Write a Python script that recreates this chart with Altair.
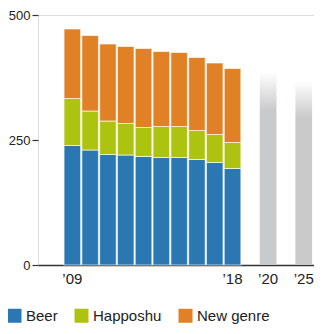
import altair as alt
import pandas as pd

years = ["2009", "2010", "2011", "2012", "2013", "2014", "2015", "2016", "2017", "2018"]
beer = [239, 230, 221, 220, 217, 215, 215, 211, 205, 193]
happoshu = [94, 78, 67, 63, 58, 62, 62, 58, 56, 52]
new_genre = [139, 151, 154, 154, 158, 150, 148, 146, 143, 148]

proj_years = ["2020", "2025"]
proj_totals = [386, 368]

x_slots = ["2009", "2010", "2011", "2012", "2013", "2014", "2015", "2016", "2017", "2018",
           "2019", "2020", "2021", "2025"]
shown_labels = ["2009", "2018", "2020", "2025"]

categories = ["Beer", "Happoshu", "New genre"]
colors = ["#2a77b2", "#aec30f", "#e08126"]

rows = []
for i, y in enumerate(years):
    for k, (cat, vals) in enumerate(zip(categories, [beer, happoshu, new_genre])):
        rows.append({"year": y, "type": cat, "value": vals[i], "order": k})
df = pd.DataFrame(rows)
proj = pd.DataFrame({"year": proj_years, "value": proj_totals})

FONT = "Liberation Sans"
NARROW = "Noto Sans Condensed, Liberation Sans Narrow, Liberation Sans, sans-serif"

xscale = alt.Scale(domain=x_slots, paddingInner=0.06, paddingOuter=0.783, align=0.932)
label_expr = ("indexof(" + str(shown_labels) + ", datum.value) >= 0 ? "
              "'\u2019' + slice(datum.value, 2) : ''")

x_enc = alt.X("year:N", scale=xscale, title=None,
              axis=alt.Axis(labelExpr=label_expr, ticks=False, labelAngle=0,
                            labelFontSize=15, labelFont=FONT, labelColor="#222",
                            labelPadding=6, domainColor="#333", domainWidth=1.5,
                            labelFlush=False))

bars = alt.Chart(df).mark_bar(stroke="white", strokeWidth=1.2, strokeOpacity=0.65).encode(
    x=x_enc,
    y=alt.Y("value:Q", stack="zero", scale=alt.Scale(domain=[0, 500]), title=None,
            axis=alt.Axis(values=[0, 250, 500], grid=False, domain=False, tickSize=6,
                          tickColor="#333", tickWidth=1.2, labelFontSize=13,
                          labelFont=NARROW, labelColor="#222", labelPadding=2)),
    color=alt.Color("type:N", scale=alt.Scale(domain=categories, range=colors), title=None,
                    legend=alt.Legend(orient="none", legendX=-31, legendY=293,
                                      direction="horizontal", symbolType="square",
                                      symbolSize=196, symbolStrokeWidth=0, symbolOpacity=1,
                                      labelFontSize=15, labelFont=FONT, labelColor="#222",
                                      columnPadding=16, labelOffset=4)),
    order=alt.Order("order:Q", sort="ascending"),
)

gradient = alt.Gradient(
    gradient="linear",
    stops=[alt.GradientStop(color="#ffffff", offset=0),
           alt.GradientStop(color="#c9cacb", offset=0.2),
           alt.GradientStop(color="#c9cacb", offset=1)],
    x1=1, x2=1, y1=0, y2=1,
)

proj_bars = alt.Chart(proj).mark_bar(color=gradient).encode(
    x=alt.X("year:N", scale=xscale, title=None),
    y=alt.Y("value:Q"),
)

chart = alt.layer(bars, proj_bars).properties(
    width=276, height=250,
    autosize=alt.AutoSizeParams(type="none"),
    padding={"left": 30, "top": 7, "right": 0, "bottom": 61},
).configure_view(stroke=None).configure(background="white")

chart.save("out.html", embed_options={"renderer": "svg", "actions": False})
